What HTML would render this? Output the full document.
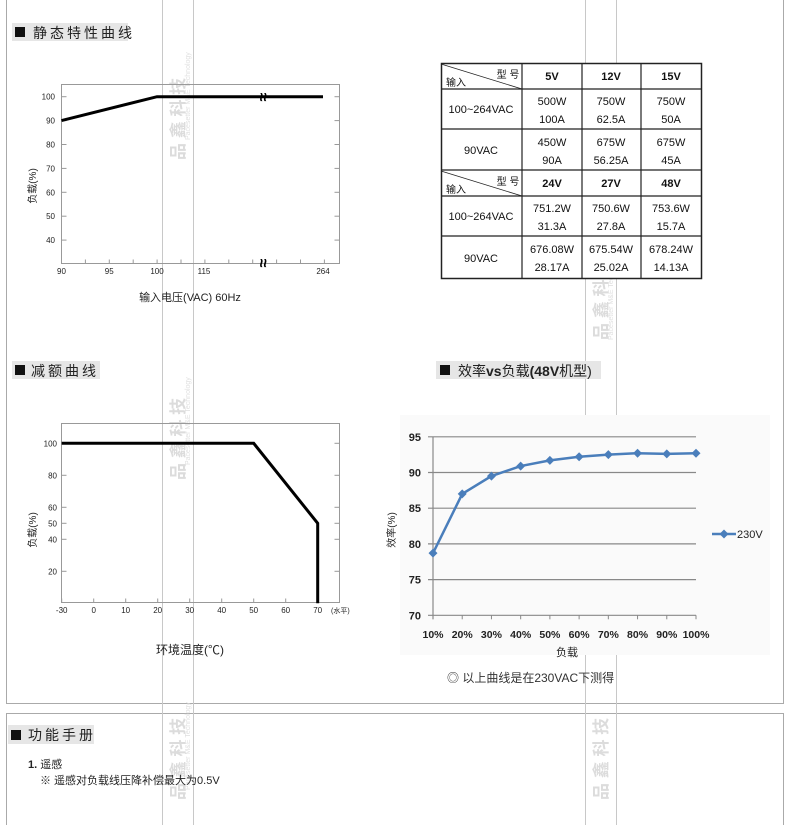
<!DOCTYPE html>
<html><head><meta charset="utf-8">
<style>
body{margin:0;background:#fff;}
svg{display:block;font-family:"Liberation Sans","Noto Sans CJK SC",sans-serif;}
</style></head>
<body>
<svg id="page" width="790" height="825" viewBox="0 0 790 825" xmlns="http://www.w3.org/2000/svg">
<g stroke="#aaa" fill="none" stroke-width="1">
<line x1="6.5" y1="0" x2="6.5" y2="704"/><line x1="783.5" y1="0" x2="783.5" y2="704"/>
<line x1="6.5" y1="703.5" x2="783.5" y2="703.5"/>
<line x1="6.5" y1="713.5" x2="783.5" y2="713.5"/>
<line x1="6.5" y1="713" x2="6.5" y2="825"/><line x1="783.5" y1="713" x2="783.5" y2="825"/>
</g>
<g>
<line x1="162.5" y1="0" x2="162.5" y2="825" stroke="#c8c8c8"/>
<line x1="193.5" y1="0" x2="193.5" y2="825" stroke="#c8c8c8"/>
<line x1="585.5" y1="0" x2="585.5" y2="825" stroke="#c8c8c8"/>
<line x1="616.5" y1="0" x2="616.5" y2="825" stroke="#c8c8c8"/>
<g fill="#dcdcdc" font-size="17" font-weight="bold">
<text transform="translate(184,160) rotate(-90)">品 鑫 科 技</text>
<text transform="translate(184,480) rotate(-90)">品 鑫 科 技</text>
<text transform="translate(184,800) rotate(-90)">品 鑫 科 技</text>
<text transform="translate(607,340) rotate(-90)">品 鑫 科 技</text>
<text transform="translate(607,600) rotate(-90)">品 鑫 科 技</text>
<text transform="translate(607,800) rotate(-90)">品 鑫 科 技</text>
</g>
<g fill="#e0e0e0" font-size="7">
<text transform="translate(190,140) rotate(-90)">Pacesetter M&amp;E Technology</text>
<text transform="translate(190,465) rotate(-90)">Pacesetter M&amp;E Technology</text>
<text transform="translate(190,790) rotate(-90)">Pacesetter M&amp;E Technology</text>
<text transform="translate(613,340) rotate(-90)">Pacesetter M&amp;E Technology</text>
<text transform="translate(613,600) rotate(-90)">Pacesetter M&amp;E Technology</text>
</g>
</g>

<g>
<rect x="12" y="23" width="116" height="18" fill="#e6e6e6"/>
<rect x="15" y="27" width="10" height="10" fill="#111"/>
<text x="33" y="38" font-size="14" fill="#222" letter-spacing="3">静态特性曲线</text>
</g>
<g>
<rect x="12" y="361" width="88" height="18" fill="#e6e6e6"/>
<rect x="15" y="365" width="10" height="10" fill="#111"/>
<text x="31" y="376" font-size="14" fill="#222" letter-spacing="3">减额曲线</text>
</g>
<g>
<rect x="436" y="361" width="165" height="18" fill="#e6e6e6"/>
<rect x="440" y="365" width="10" height="10" fill="#111"/>
<text x="458" y="376" font-size="14" fill="#222">效率<tspan font-weight="bold">vs</tspan>负载<tspan font-weight="bold">(48V</tspan>机型)</text>
</g>
<g>
<rect x="8" y="725" width="86" height="19" fill="#e6e6e6"/>
<rect x="11" y="730" width="10" height="10" fill="#111"/>
<text x="28" y="740" font-size="14" fill="#222" letter-spacing="3">功能手册</text>
</g>

<g id="c1"></g>
<g id="c2"></g>
<rect x="400" y="415" width="370" height="240" fill="#fafafa"/>
<g id="c3"></g>

<g font-size="11" fill="#111" text-anchor="middle">
<rect x="441.5" y="63.5" width="260" height="215" fill="#fff" stroke="#222" stroke-width="1.5"/>
<g stroke="#222" stroke-width="1.2">
<line x1="522" y1="63" x2="522" y2="278"/><line x1="582" y1="63" x2="582" y2="278"/><line x1="641" y1="63" x2="641" y2="278"/>
<line x1="441" y1="89" x2="701" y2="89"/><line x1="441" y1="129" x2="701" y2="129"/>
<line x1="441" y1="170" x2="701" y2="170"/><line x1="441" y1="196" x2="701" y2="196"/>
<line x1="441" y1="236" x2="701" y2="236"/>
<line x1="441" y1="64" x2="522" y2="89" stroke-width="0.8"/>
<line x1="441" y1="171" x2="522" y2="196" stroke-width="0.8"/>
</g>
<text x="508" y="78" font-size="10">型 号</text><text x="456" y="86" font-size="10">输入</text>
<text x="508" y="185" font-size="10">型 号</text><text x="456" y="193" font-size="10">输入</text>
<g font-weight="bold"><text x="552" y="80">5V</text><text x="611" y="80">12V</text><text x="671" y="80">15V</text>
<text x="552" y="187">24V</text><text x="611" y="187">27V</text><text x="671" y="187">48V</text></g>
<text x="481" y="113">100~264VAC</text><text x="481" y="154">90VAC</text>
<text x="481" y="220">100~264VAC</text><text x="481" y="262">90VAC</text>
<text x="552" y="105">500W</text><text x="552" y="123">100A</text>
<text x="611" y="105">750W</text><text x="611" y="123">62.5A</text>
<text x="671" y="105">750W</text><text x="671" y="123">50A</text>
<text x="552" y="146">450W</text><text x="552" y="164">90A</text>
<text x="611" y="146">675W</text><text x="611" y="164">56.25A</text>
<text x="671" y="146">675W</text><text x="671" y="164">45A</text>
<text x="552" y="212">751.2W</text><text x="552" y="230">31.3A</text>
<text x="611" y="212">750.6W</text><text x="611" y="230">27.8A</text>
<text x="671" y="212">753.6W</text><text x="671" y="230">15.7A</text>
<text x="552" y="253">676.08W</text><text x="552" y="271">28.17A</text>
<text x="611" y="253">675.54W</text><text x="611" y="271">25.02A</text>
<text x="671" y="253">678.24W</text><text x="671" y="271">14.13A</text>
</g>

<text x="447" y="682" font-size="12" fill="#333">◎ 以上曲线是在230VAC下测得</text>
<text x="28" y="768" font-size="11" fill="#222"><tspan font-weight="bold">1.</tspan> 遥感</text>
<text x="40" y="784" font-size="11" fill="#222">※ 遥感对负载线压降补偿最大为0.5V</text>
</svg>

<script>
// ---- chart 1 data: static characteristic ----
const c1XLabels = ["90","95","100","115","264"];
const c1YTicks = [100,90,80,70,60,50,40];
const c1LineX = [90,100,264];
const c1LineY = [90,100,100];
// ---- chart 2 data: derating ----
const c2XTicks = [-30,0,10,20,30,40,50,60,70];
const c2YTicks = [100,80,60,50,40,20];
const c2LineX = [-30,50,70,70];
const c2LineY = [100,100,50,0];
// ---- chart 3 data: efficiency ----
const c3Cats = ["10%","20%","30%","40%","50%","60%","70%","80%","90%","100%"];
const c3Values = [78.7,87.0,89.5,90.9,91.7,92.2,92.5,92.7,92.6,92.7];
const c3YTicks = [95,90,85,80,75,70];

const NS="http://www.w3.org/2000/svg";
function mk(parent,tag,attrs,txt){const e=document.createElementNS(NS,tag);for(const k in attrs)e.setAttribute(k,attrs[k]);if(txt!==undefined)e.textContent=txt;parent.appendChild(e);return e;}

// chart 1
(function(){
 const g=document.getElementById('c1');
 const L=61.5,R=339.5,T=84.5,B=263.5;
 function xv(v){
  if(v<=100) return 61.5+(v-90)*9.55;
  if(v<=115) return 157+(v-100)*47/15;
  return 204+(v-115)*119/149;
 }
 const y=v=>96.7+(100-v)*2.39;
 const fr=mk(g,'rect',{x:L,y:T,width:R-L,height:B-T,fill:'none',stroke:'#999'});
 
 
 c1YTicks.forEach(t=>{
  mk(g,'line',{x1:L,x2:L+5,y1:y(t),y2:y(t),stroke:'#999'});
  mk(g,'line',{x1:R-5,x2:R,y1:y(t),y2:y(t),stroke:'#999'});
  const tx=mk(g,'text',{x:55,y:y(t)+3,'font-size':8,'text-anchor':'end',fill:'#222'},t);
  
  
 });
 for(let i=0;i<12;i++){const px=L+i*23.9;mk(g,'line',{x1:px,x2:px,y1:B-4,y2:B,stroke:'#999'});}
 c1XLabels.forEach(t=>{
  const tx=mk(g,'text',{x:xv(+t),y:274,'font-size':8,'text-anchor':'middle',fill:'#222'},t);
  
  
 });
 const pts=c1LineX.map((v,i)=>xv(v)+','+y(c1LineY[i])).join(' ');
 const pl=mk(g,'polyline',{points:pts,fill:'none',stroke:'#000','stroke-width':3});
 
 
 [97,263].forEach(yy=>{
  const b=mk(g,'text',{x:263,y:yy+5,'font-size':16,'font-weight':'bold','text-anchor':'middle',fill:'#000',transform:`rotate(90 263 ${yy})`},'≈');
  
  
 });
 const yt=mk(g,'text',{transform:'translate(36,186) rotate(-90)','font-size':10,'text-anchor':'middle',fill:'#222'},'负载(%)');
 
 
 const xt=mk(g,'text',{x:190,y:301,'font-size':11,'text-anchor':'middle',fill:'#222'},'输入电压(VAC) 60Hz');
 
 
})();

// chart 2 (x axis: -30 to 0 compressed to one 10-degree step)
(function(){
 const g=document.getElementById('c2');
 const L=61.5,R=339.5,T=423.5,B=602.5;
 const x=v=> v<=0 ? 93.7+(v/30)*32 : 93.7+v*3.2;
 const y=v=>603.3-v*1.6;
 mk(g,'rect',{x:L,y:T,width:R-L,height:B-T,fill:'none',stroke:'#999'});
 c2YTicks.forEach(t=>{
  mk(g,'line',{x1:L,x2:L+5,y1:y(t),y2:y(t),stroke:'#999'});
  mk(g,'line',{x1:R-5,x2:R,y1:y(t),y2:y(t),stroke:'#999'});
  const tx=mk(g,'text',{x:57,y:y(t)+3,'font-size':8,'text-anchor':'end',fill:'#222'},t);
  
  
 });
 c2XTicks.forEach(t=>{
  mk(g,'line',{x1:x(t),x2:x(t),y1:B-4,y2:B,stroke:'#999'});
  const tx=mk(g,'text',{x:x(t),y:613,'font-size':8,'text-anchor':'middle',fill:'#222'},t);
  
  
 });
 mk(g,'text',{x:331,y:613,'font-size':7,fill:'#222'},'(水平)');
 const pts=c2LineX.map((v,i)=>x(v)+','+y(c2LineY[i])).join(' ');
 const pl=mk(g,'polyline',{points:pts,fill:'none',stroke:'#000','stroke-width':3});
 
 
 const yt=mk(g,'text',{transform:'translate(36,530) rotate(-90)','font-size':10,'text-anchor':'middle',fill:'#222'},'负载(%)');
 
 
 const xt=mk(g,'text',{x:190,y:654,'font-size':12,'text-anchor':'middle',fill:'#222'},'环境温度(℃)');
 
 
})();

// chart 3
(function(){
 const g=document.getElementById('c3');
 const L=433,R=696;
 const x=i=>L+i*(R-L)/(c3Cats.length-1);
 const y=v=>615.3-(v-70)*7.14;
 c3YTicks.forEach(t=>{
  const l=mk(g,'line',{x1:L-5,x2:R,y1:y(t),y2:y(t),stroke:'#888','stroke-width':1.2});
  
  
  const tx=mk(g,'text',{x:421,y:y(t)+4,'font-size':11,'font-weight':'bold','text-anchor':'end',fill:'#222'},t);
  
  
 });
 mk(g,'line',{x1:L,x2:L,y1:y(95),y2:y(70)+4,stroke:'#888','stroke-width':1.2});
 c3Cats.forEach((c,i)=>{
  mk(g,'line',{x1:x(i),x2:x(i),y1:y(70),y2:y(70)+4,stroke:'#888'});
  const tx=mk(g,'text',{x:x(i),y:638,'font-size':10.5,'font-weight':'bold','text-anchor':'middle',fill:'#222'},c);
  
  
 });
 const pts=c3Values.map((v,i)=>x(i)+','+y(v)).join(' ');
 const pl=mk(g,'polyline',{points:pts,fill:'none',stroke:'#4a7ebb','stroke-width':2.5});
 
 
 c3Values.forEach((v,i)=>{
  const cx=x(i),cy=y(v);
  const d=mk(g,'polygon',{points:`${cx},${cy-4.5} ${cx+4.5},${cy} ${cx},${cy+4.5} ${cx-4.5},${cy}`,fill:'#4a7ebb'});
  
  
 });
 const lg=mk(g,'g',{});
 
 
 mk(lg,'line',{x1:712,x2:736,y1:534,y2:534,stroke:'#4a7ebb','stroke-width':2.5});
 mk(lg,'polygon',{points:'724,529.5 728.5,534 724,538.5 719.5,534',fill:'#4a7ebb'});
 mk(lg,'text',{x:737,y:538,'font-size':11,fill:'#222'},'230V');
 const yt=mk(g,'text',{transform:'translate(395,530) rotate(-90)','font-size':10,'text-anchor':'middle',fill:'#222'},'效率(%)');
 
 
 const xt=mk(g,'text',{x:567,y:656,'font-size':11,'text-anchor':'middle',fill:'#222'},'负载');
 
 
})();
</script>
</body></html>
